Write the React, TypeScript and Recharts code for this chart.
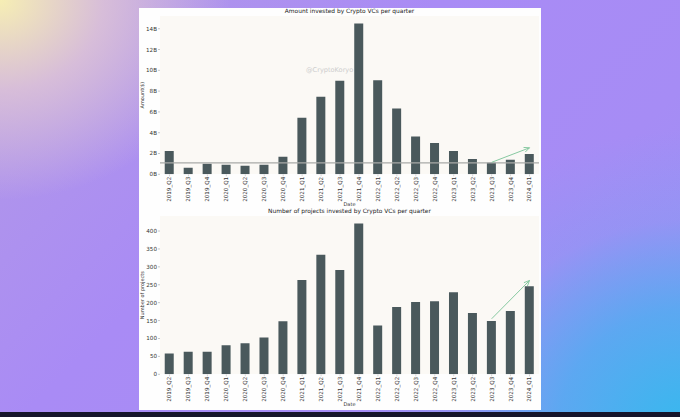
import React from 'react';
import { BarChart, Bar, XAxis, YAxis, ReferenceLine } from 'recharts';

// Quarter labels along the x axis
const quarters = [
  '2019_Q2', '2019_Q3', '2019_Q4', '2020_Q1', '2020_Q2', '2020_Q3', '2020_Q4',
  '2021_Q1', '2021_Q2', '2021_Q3', '2021_Q4', '2022_Q1', '2022_Q2', '2022_Q3',
  '2022_Q4', '2023_Q1', '2023_Q2', '2023_Q3', '2023_Q4', '2024_Q1',
];

// Amount invested per quarter, in billions of dollars
const amountBillions = [
  2.23, 0.63, 1.01, 0.92, 0.82, 0.92, 1.69, 5.44, 7.45, 8.99,
  14.5, 9.05, 6.33, 3.63, 3.02, 2.25, 1.48, 1.1, 1.4, 1.95,
];

// Number of projects funded per quarter
const projectCounts = [
  58, 63, 63, 81, 87, 103, 148, 263, 334, 291,
  421, 136, 188, 202, 204, 229, 171, 149, 177, 246,
];

const amountTicks = [0, 2, 4, 6, 8, 10, 12, 14];
const projectTicks = [0, 50, 100, 150, 200, 250, 300, 350, 400];

// Horizontal reference level on the amount chart (billions)
const amountBaseline = 1.1;

// Trend arrows: start and end points
const amountTrend = [
  { x: '2023_Q3', y: 1.15 },
  { x: '2024_Q1', y: 2.55 },
];
const projectTrend = [
  { x: '2023_Q3', y: 155 },
  { x: '2024_Q1', y: 262 },
];

const amountData = quarters.map((q, i) => ({ quarter: q, amount: amountBillions[i] }));
const projectData = quarters.map((q, i) => ({ quarter: q, projects: projectCounts[i] }));

const FONT = '"DejaVu Sans", sans-serif';
const BAR = '#4a595c';
const ARROW = '#87c9a1';
const TICK_SIZE = 5.6;

const CHART_W = 680;
const CHART_H = 210;
const MARGIN = { top: 16, right: 141, bottom: 1.7, left: 130 };
const Y_AXIS_W = 30;
const X_AXIS_H = 34;

const QuarterTick = (props: any) => {
  const { x, y, payload } = props;
  return (
    <text
      x={x}
      y={y}
      transform={`rotate(-90 ${x} ${y})`}
      textAnchor="end"
      dy="0.35em"
      fontSize={TICK_SIZE}
      fontFamily={FONT}
      fill="#333"
    >
      {payload.value}
    </text>
  );
};

const TrendArrow = (props: any) => {
  const { x1, y1, x2, y2 } = props;
  if ([x1, y1, x2, y2].some((v) => typeof v !== 'number' || isNaN(v))) return null;
  const ang = Math.atan2(y2 - y1, x2 - x1);
  const len = 6;
  const spread = 0.42;
  const ax = x2 - len * Math.cos(ang - spread);
  const ay = y2 - len * Math.sin(ang - spread);
  const bx = x2 - len * Math.cos(ang + spread);
  const by = y2 - len * Math.sin(ang + spread);
  return (
    <g>
      <line x1={x1} y1={y1} x2={x2} y2={y2} stroke={ARROW} strokeWidth={1} />
      <polyline
        points={`${ax},${ay} ${x2},${y2} ${bx},${by}`}
        fill="none"
        stroke={ARROW}
        strokeWidth={1}
      />
    </g>
  );
};

const sideLabel = (text: string) => (p: any) => {
  const vb = p.viewBox || {};
  const cx = vb.x + vb.width / 2 - 2.5;
  const cy = vb.y + vb.height / 2;
  return (
    <text
      x={cx}
      y={cy}
      transform={`rotate(-90 ${cx} ${cy})`}
      textAnchor="middle"
      dominantBaseline="central"
      fontSize={5}
      fontFamily={FONT}
      fill="#333"
    >
      {text}
    </text>
  );
};

const dateLabel = (p: any) => {
  const vb = p.viewBox || {};
  const cx = vb.x + vb.width / 2;
  const cy = vb.y + vb.height - 4;
  return (
    <text
      x={cx}
      y={cy}
      textAnchor="middle"
      dominantBaseline="central"
      fontSize={5}
      fontFamily={FONT}
      fill="#333"
    >
      Date
    </text>
  );
};

const axisTickStyle = { fontSize: TICK_SIZE, fontFamily: FONT, fill: '#333' };

export default function App() {
  const abs = (s: React.CSSProperties): React.CSSProperties => ({ position: 'absolute', ...s });
  return (
    <div
      style={{
        position: 'fixed',
        left: 0,
        top: 0,
        width: 680,
        height: 417,
        overflow: 'hidden',
        background: [
          'radial-gradient(ellipse 230px 200px at 0px 0px, #f6eeb4 0%, rgba(222,196,214,0.85) 45%, rgba(169,139,245,0) 100%)',
          'radial-gradient(ellipse 330px 300px at 690px 430px, #36b9ee 0%, rgba(70,176,240,0.75) 40%, rgba(120,160,243,0.3) 70%, rgba(169,139,245,0) 100%)',
          'linear-gradient(135deg, #b39ae6 0%, #a98bf5 40%, #a68cf5 70%, #9a92f4 100%)',
        ].join(', '),
      }}
    >
      {/* white panel */}
      <div style={abs({ left: 139, top: 8, width: 402, height: 402, background: '#fefefe' })} />
      {/* plot backgrounds */}
      <div style={abs({ left: 160, top: 16, width: 379, height: 158.3, background: '#fbf9f5' })} />
      <div style={abs({ left: 160, top: 216, width: 379, height: 158.3, background: '#fbf9f5' })} />
      {/* watermark */}
      <div
        style={abs({
          left: 306,
          top: 66.5,
          fontSize: 6.6,
          lineHeight: 1,
          fontFamily: FONT,
          color: '#cdcdcd',
          whiteSpace: 'nowrap',
        })}
      >
        @CryptoKoryo
      </div>
      {/* titles */}
      <div
        style={abs({
          left: 160,
          width: 379,
          top: 9,
          textAlign: 'center',
          fontSize: 5.9,
          lineHeight: 1,
          fontFamily: FONT,
          color: '#222',
          whiteSpace: 'nowrap',
        })}
      >
        Amount invested by Crypto VCs per quarter
      </div>
      <div
        style={abs({
          left: 160,
          width: 379,
          top: 209.3,
          textAlign: 'center',
          fontSize: 5.9,
          lineHeight: 1,
          fontFamily: FONT,
          color: '#222',
          whiteSpace: 'nowrap',
        })}
      >
        Number of projects invested by Crypto VCs per quarter
      </div>

      <div style={abs({ left: 0, top: 0 })}>
        <BarChart width={CHART_W} height={CHART_H} data={amountData} margin={MARGIN} barCategoryGap="25%">
          <XAxis
            dataKey="quarter"
            type="category"
            height={X_AXIS_H}
            interval={0}
            axisLine={false}
            tickLine={{ stroke: '#d6d6d6' }}
            tickSize={2}
            tickMargin={0.5}
            tick={<QuarterTick />}
            label={{ content: dateLabel }}
          />
          <YAxis
            type="number"
            width={Y_AXIS_W}
            domain={[0, 15.225]}
            ticks={amountTicks}
            allowDataOverflow
            axisLine={false}
            tickLine={{ stroke: '#c8c8c8' }}
            tickSize={2}
            tickMargin={1}
            tick={axisTickStyle}
            tickFormatter={(v: number) => `${v}B`}
            label={{ content: sideLabel('Amount($)') }}
          />
          <Bar dataKey="amount" fill={BAR} isAnimationActive={false} />
          <ReferenceLine y={amountBaseline} stroke="#a9aaa7" strokeWidth={1.1} />
          <ReferenceLine segment={amountTrend} shape={TrendArrow} ifOverflow="visible" />
        </BarChart>
      </div>

      <div style={abs({ left: 0, top: 200 })}>
        <BarChart width={CHART_W} height={CHART_H} data={projectData} margin={MARGIN} barCategoryGap="25%">
          <XAxis
            dataKey="quarter"
            type="category"
            height={X_AXIS_H}
            interval={0}
            axisLine={false}
            tickLine={{ stroke: '#d6d6d6' }}
            tickSize={2}
            tickMargin={0.5}
            tick={<QuarterTick />}
            label={{ content: dateLabel }}
          />
          <YAxis
            type="number"
            width={Y_AXIS_W}
            domain={[0, 442]}
            ticks={projectTicks}
            allowDataOverflow
            axisLine={false}
            tickLine={{ stroke: '#c8c8c8' }}
            tickSize={2}
            tickMargin={1}
            tick={axisTickStyle}
            label={{ content: sideLabel('Number of projects') }}
          />
          <Bar dataKey="projects" fill={BAR} isAnimationActive={false} />
          <ReferenceLine segment={projectTrend} shape={TrendArrow} ifOverflow="visible" />
        </BarChart>
      </div>

      {/* dark strip along the bottom edge */}
      <div style={abs({ left: 0, top: 412, width: 680, height: 5, background: '#16152b' })} />
    </div>
  );
}
